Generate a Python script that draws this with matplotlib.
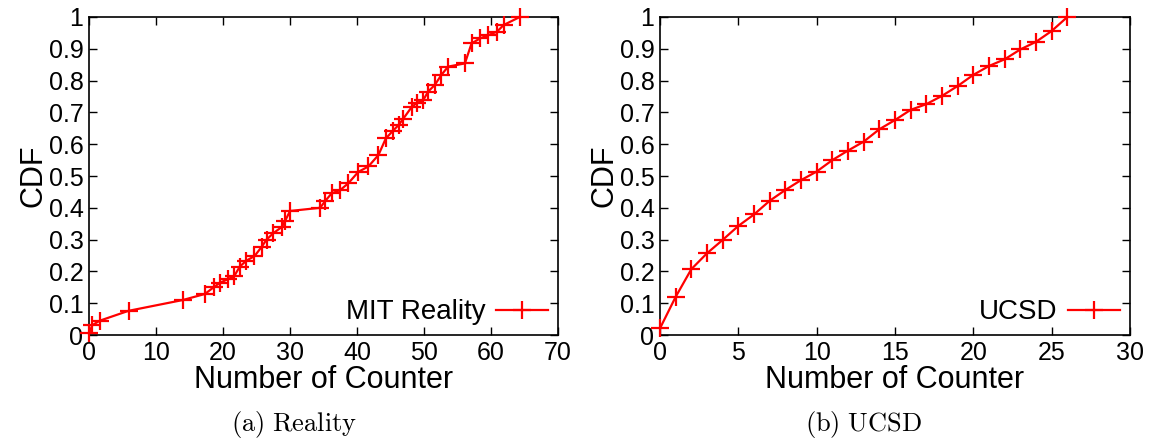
import matplotlib
matplotlib.use("Agg")
import matplotlib.pyplot as plt

# MIT Reality trace: number of counters vs CDF
mit_x = [0, 0.5, 1.6, 5.9, 14, 17.3, 18.6, 19.6, 20.7, 21.7, 22.5, 23.5, 24.7,
         25.8, 26.5, 27.5, 28.8, 29.3, 30, 34.5, 35.2, 36.2, 37.5, 38.7, 40.2,
         41.7, 43.2, 44.3, 45.4, 46.2, 46.9, 48.2, 48.9, 49.9, 50.6, 51.6, 52.6,
         53.6, 56.1, 57.1, 58.4, 59.6, 60.9, 61.9, 64.3]
mit_cdf = [0.005, 0.031, 0.045, 0.076, 0.11, 0.129, 0.15, 0.165, 0.175, 0.186,
           0.215, 0.234, 0.248, 0.278, 0.30, 0.32, 0.34, 0.36, 0.39, 0.40, 0.42,
           0.445, 0.456, 0.477, 0.513, 0.53, 0.566, 0.618, 0.643, 0.66, 0.68,
           0.718, 0.729, 0.739, 0.765, 0.786, 0.818, 0.844, 0.854, 0.917, 0.933,
           0.943, 0.954, 0.975, 1.0]

# UCSD trace
ucsd_x = list(range(0, 27))
ucsd_cdf = [0.021, 0.12, 0.207, 0.257, 0.299, 0.343, 0.379, 0.422, 0.456, 0.487,
            0.514, 0.55, 0.58, 0.608, 0.647, 0.676, 0.708, 0.726, 0.752, 0.783,
            0.818, 0.846, 0.867, 0.898, 0.922, 0.956, 1.0]

yticks = [i / 10 for i in range(11)]
ytick_labels = ["0"] + ["0.%d" % i for i in range(1, 10)] + ["1"]

plt.rcParams["font.family"] = ["Liberation Sans", "DejaVu Sans"]
plt.rcParams["mathtext.fontset"] = "cm"

fig = plt.figure(figsize=(11.53, 4.4), dpi=100)
ax1 = fig.add_axes([89 / 1153, 105 / 440, 469 / 1153, 318 / 440])
ax2 = fig.add_axes([660 / 1153, 105 / 440, 470 / 1153, 318 / 440])

panels = [
    (ax1, mit_x, mit_cdf, "MIT Reality", 70, 10, r"$\mathrm{(a)\ Reality}$", 294),
    (ax2, ucsd_x, ucsd_cdf, "UCSD", 30, 5, r"$\mathrm{(b)\ UCSD}$", 864),
]

for ax, xs, ys, name, xmax, xstep, caption, cap_x in panels:
    ax.plot(xs, ys, color="red", lw=1.6, marker="+", ms=13, mew=1.6,
            label=name, clip_on=False, zorder=3)
    ax.set_xlim(0, xmax)
    ax.set_ylim(0, 1)
    ax.set_xticks(range(0, xmax + 1, xstep))
    ax.set_yticks(yticks)
    ax.set_yticklabels(ytick_labels)
    ax.tick_params(direction="in", top=True, right=True, length=6, width=1,
                   labelsize=18, pad=4)
    for s in ax.spines.values():
        s.set_linewidth(1.2)
    ax.set_xlabel("Number of Counter", fontsize=22, labelpad=0)
    ax.set_ylabel("CDF", fontsize=22, labelpad=0)
    ax.legend(loc="lower right", frameon=False, markerfirst=False, fontsize=20,
              handlelength=1.9, handletextpad=0.35, borderaxespad=0.15,
              borderpad=0.2)
    fig.text(cap_x / 1153, 0, caption, ha="center", va="bottom",
             fontsize=19)

fig.savefig("out.png", dpi=100)
